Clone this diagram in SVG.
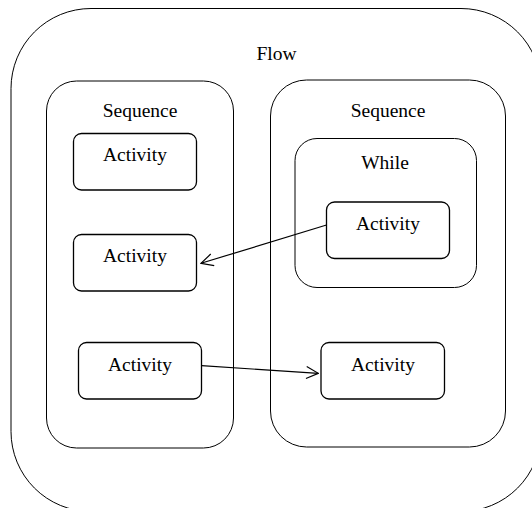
<svg xmlns="http://www.w3.org/2000/svg" width="532" height="508" viewBox="0 0 532 508">
  <style>
    .container { fill: none; stroke: #000; stroke-width: 1; }
    .activity { fill: #fff; stroke: #000; stroke-width: 1.3; }
    .label { font-family: "Liberation Serif", "Times New Roman", serif; font-size: 19.5px; fill: #000; text-anchor: middle; }
    .edge { fill: none; stroke: #000; stroke-width: 1.2; }
  </style>
  <defs>
    <marker id="arrow" viewBox="0 0 14 14" refX="13" refY="7" markerWidth="14" markerHeight="14" markerUnits="userSpaceOnUse" orient="auto">
      <path d="M1,1 L13,7 L1,13" fill="none" stroke="#000" stroke-width="1.2"/>
    </marker>
  </defs>
  <rect width="532" height="508" fill="#fff"/>

  <g id="flow">
    <rect class="container" x="11" y="8.5" width="530" height="503" rx="80" ry="80"/>
    <text class="label" x="276.5" y="59.5">Flow</text>
  </g>

  <g id="sequence-left">
    <rect class="container" x="46.5" y="81" width="187" height="367" rx="30" ry="30"/>
    <text class="label" x="140" y="117">Sequence</text>
  </g>

  <g id="sequence-right">
    <rect class="container" x="270.5" y="80" width="235" height="367" rx="36" ry="36"/>
    <text class="label" x="388" y="117">Sequence</text>
  </g>

  <g id="while">
    <rect class="container" x="295" y="138.5" width="181.5" height="149" rx="22" ry="22"/>
    <text class="label" x="385" y="169">While</text>
  </g>

  <g id="activity-1">
    <rect class="activity" x="73.5" y="133.5" width="123" height="56.5" rx="8" ry="8"/>
    <text class="label" x="135" y="160.5">Activity</text>
  </g>

  <g id="activity-2">
    <rect class="activity" x="73.5" y="234.5" width="123" height="56.5" rx="8" ry="8"/>
    <text class="label" x="135" y="261.5">Activity</text>
  </g>

  <g id="activity-3">
    <rect class="activity" x="78.5" y="342.5" width="123" height="56.5" rx="8" ry="8"/>
    <text class="label" x="140" y="371">Activity</text>
  </g>

  <g id="activity-4">
    <rect class="activity" x="326.5" y="202" width="123" height="56.5" rx="8" ry="8"/>
    <text class="label" x="388" y="229.5">Activity</text>
  </g>

  <g id="activity-5">
    <rect class="activity" x="321" y="342.5" width="123.5" height="56.5" rx="8" ry="8"/>
    <text class="label" x="383" y="371">Activity</text>
  </g>

  <g id="connectors">
    <line class="edge" x1="326.5" y1="225" x2="201" y2="263.3" marker-end="url(#arrow)"/>
    <line class="edge" x1="201.5" y1="365.7" x2="318.3" y2="373.3" marker-end="url(#arrow)"/>
  </g>
</svg>
